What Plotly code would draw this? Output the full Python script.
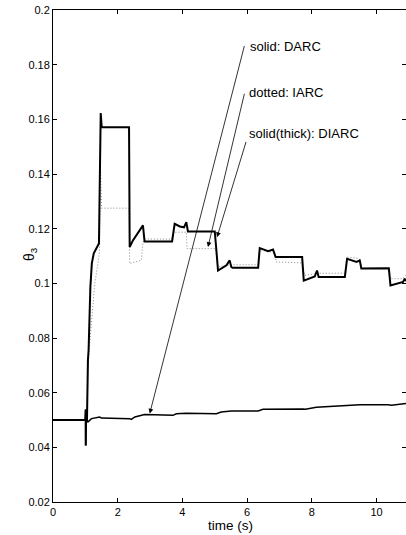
import plotly.graph_objects as go

# DARC (solid, thin) - bottom curve
darc_t = [0, 1.0, 1.01, 1.012, 1.02, 1.08, 1.19, 1.44, 1.5, 2.37, 2.42, 2.53, 2.83, 3.71, 3.81, 4.12,
          5.05, 5.2, 5.51, 6.34, 6.49, 7.73, 7.8, 8.14, 9.17, 9.48, 10.36, 10.46, 10.91]
darc_v = [0.05, 0.05, 0.0538, 0.0407, 0.05, 0.0493, 0.0505, 0.0511, 0.0507, 0.0505, 0.0502, 0.0511, 0.052,
          0.0517, 0.0523, 0.0525, 0.0523, 0.0529, 0.0533, 0.0533, 0.0539, 0.054, 0.0539, 0.0547, 0.0552,
          0.0556, 0.0556, 0.0554, 0.056]

# IARC (dotted)
iarc_t = [0, 1.0, 1.05, 1.08, 1.17, 1.22, 1.29, 1.39, 1.44, 1.47, 1.5, 2.35, 2.37, 2.53, 2.73, 2.78,
          2.85, 3.68, 3.73, 4.12, 4.14, 5.02, 5.1, 5.3, 5.5, 6.34, 6.38, 6.65, 6.85, 6.9, 7.7, 7.78,
          8.1, 8.2, 9.02, 9.08, 9.4, 9.5, 9.55, 10.38, 10.44, 10.8, 10.91]
iarc_v = [0.05, 0.05, 0.05, 0.07, 0.0828, 0.0913, 0.0999, 0.1072, 0.112, 0.1417, 0.1275, 0.1275, 0.1072,
          0.1078, 0.1084, 0.1151, 0.1162, 0.1162, 0.1187, 0.1187, 0.1127, 0.1127, 0.106, 0.1065, 0.1068,
          0.1068, 0.1125, 0.1115, 0.1115, 0.1078, 0.1075, 0.1029, 0.1035, 0.1037, 0.1037, 0.1096, 0.1092,
          0.1085, 0.1056, 0.1056, 0.1017, 0.1017, 0.103]

# DIARC (solid, thick)
diarc_t = [0, 1.0, 1.01, 1.012, 1.02, 1.05, 1.06, 1.08, 1.1, 1.155, 1.2, 1.26, 1.35, 1.42, 1.475, 1.505,
           2.35, 2.37, 2.47, 2.63, 2.78, 2.83, 3.68, 3.76, 3.92, 4.05, 4.12, 4.17, 5.0, 5.05, 5.1, 5.36,
           5.46, 5.51, 5.55, 6.34, 6.39, 6.65, 6.8, 6.88, 7.7, 7.75, 8.09, 8.16, 8.21, 9.02, 9.09, 9.38,
           9.48, 9.53, 10.38, 10.43, 10.82, 10.87, 10.91]
diarc_v = [0.05, 0.05, 0.0538, 0.0407, 0.05, 0.05, 0.072, 0.072, 0.0755, 0.0986, 0.1073, 0.111, 0.113,
           0.1146, 0.1623, 0.1571, 0.1571, 0.1133, 0.1157, 0.1187, 0.1212, 0.1153, 0.1153, 0.1218, 0.1208,
           0.1205, 0.1224, 0.119, 0.119, 0.112, 0.1047, 0.1066, 0.1084, 0.106, 0.1057, 0.1057, 0.1129,
           0.1118, 0.1124, 0.1096, 0.1096, 0.101, 0.1025, 0.1047, 0.1023, 0.1023, 0.109, 0.1078, 0.1084,
           0.1054, 0.1055, 0.0992, 0.1005, 0.1017, 0.1008]

x_ticks = [0, 2, 4, 6, 8, 10]
y_ticks = [0.02, 0.04, 0.06, 0.08, 0.1, 0.12, 0.14, 0.16, 0.18, 0.2]
y_tick_labels = ["0.02", "0.04", "0.06", "0.08", "0.1", "0.12", "0.14", "0.16", "0.18", "0.2"]

labels = ["solid: DARC", "dotted: IARC", "solid(thick): DIARC"]

FONT = "Liberation Sans, Arial, Helvetica, sans-serif"

fig = go.Figure()
fig.add_trace(go.Scatter(x=iarc_t, y=iarc_v, mode="lines",
                         line=dict(color="#888888", width=1, dash="1px,2px"), showlegend=False))
fig.add_trace(go.Scatter(x=darc_t, y=darc_v, mode="lines",
                         line=dict(color="black", width=1.5), showlegend=False))
fig.add_trace(go.Scatter(x=diarc_t, y=diarc_v, mode="lines",
                         line=dict(color="black", width=2), showlegend=False))
# invisible trace to carry right-side ticks
fig.add_trace(go.Scatter(x=[None], y=[None], yaxis="y2", showlegend=False, hoverinfo="skip"))

# text labels
text_pos = [(6.03, 0.1866), (6.0, 0.1697), (6.0, 0.1547)]
for (tx, ty), lab in zip(text_pos, labels):
    fig.add_annotation(x=tx, y=ty, text=lab, showarrow=False, xanchor="left", yanchor="middle",
                       font=dict(family=FONT, size=13, color="black"))

# arrows (tail -> head)
arrows = [((5.926, 0.1874), (2.99, 0.0524)),
          ((5.926, 0.1699), (4.79, 0.1133)),
          ((5.98, 0.1523), (5.07, 0.1169))]
for (ax_, ay_), (hx, hy) in arrows:
    fig.add_annotation(x=hx, y=hy, ax=ax_, ay=ay_, axref="x", ayref="y", text="",
                       showarrow=True, arrowhead=2, arrowsize=1.2, arrowwidth=0.8,
                       arrowcolor="black", standoff=0, startstandoff=0)

fig.add_annotation(x=-0.098, y=0.505, xref="paper", yref="paper", text="θ<sub>3</sub>",
                   textangle=-90, showarrow=False, font=dict(family=FONT, size=14, color="black"))
fig.add_annotation(x=0.504, y=-0.048, xref="paper", yref="paper", text="time (s)",
                   showarrow=False, yanchor="middle", font=dict(family=FONT, size=13.5, color="black"))

fig.update_layout(
    width=406, height=535,
    margin=dict(l=53, r=0, t=10, b=33),
    paper_bgcolor="white", plot_bgcolor="white",
    font=dict(family=FONT, size=11, color="black"),
    xaxis=dict(range=[0, 10.91], tickvals=x_ticks, ticks="inside", ticklen=4, tickcolor="black",
               showline=True, linecolor="black", linewidth=1, mirror="ticks", showgrid=False,
               zeroline=False, tickfont=dict(size=11)),
    yaxis=dict(range=[0.02, 0.2], tickvals=y_ticks, ticktext=y_tick_labels, ticks="inside",
               ticklen=4, tickcolor="black", showline=True, linecolor="black", linewidth=1,
               showgrid=False, zeroline=False, tickfont=dict(size=11)),
    yaxis2=dict(range=[0.02, 0.2], overlaying="y", side="right", tickvals=y_ticks, ticks="inside",
                ticklen=4, tickcolor="black", showticklabels=False, showline=False,
                showgrid=False, zeroline=False),
)

fig.write_html("out.html", config={"displayModeBar": False},
               post_script="document.body.style.margin='0';document.body.style.overflow='hidden';")
